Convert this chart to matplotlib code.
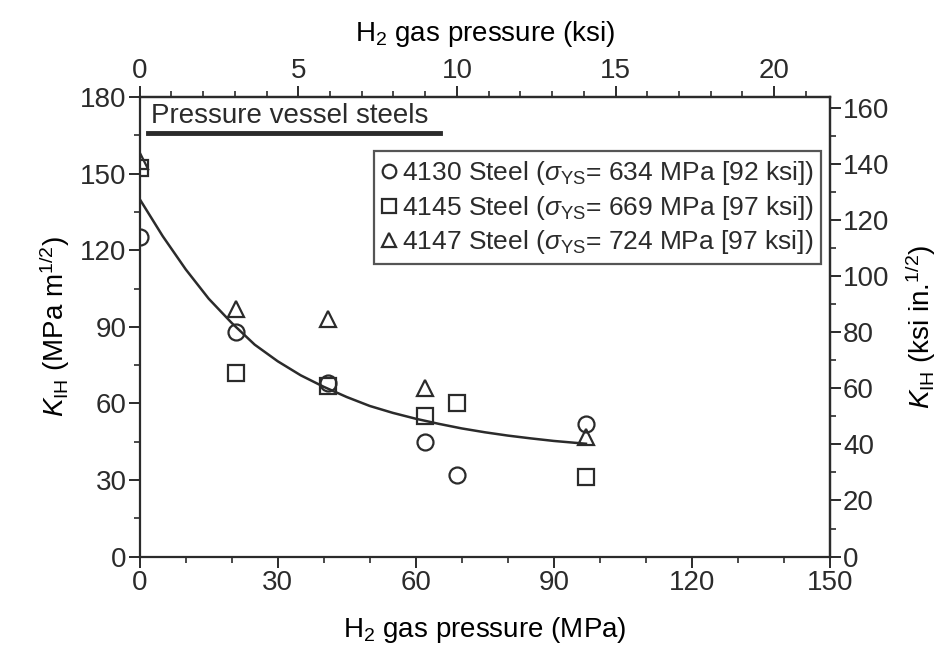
import numpy as np
import matplotlib.pyplot as plt
from matplotlib.ticker import MultipleLocator, FixedLocator

plt.rcParams['font.family'] = ['Liberation Sans', 'DejaVu Sans']
plt.rcParams['mathtext.fontset'] = 'custom'
plt.rcParams['mathtext.rm'] = 'Liberation Sans'
plt.rcParams['mathtext.it'] = 'Liberation Sans:italic'

# H2 pressure (MPa) and K_IH (MPa m^1/2)
p_4130 = [0, 21, 41, 62, 69, 97]
k_4130 = [125, 88, 68, 45, 32, 52]
p_4145 = [0, 21, 41, 62, 69, 97]
k_4145 = [152, 72, 67, 55, 60, 31]
p_4147 = [0, 21, 41, 62, 97]
k_4147 = [155, 97, 93, 66, 47]

# trend curve
p_fit = [0, 5, 10, 15, 20, 25, 30, 35, 40, 45, 50, 55, 60, 65, 70, 75, 80, 85, 90, 97]
k_fit = [140, 125.5, 112.5, 101, 91.5, 83, 76.5, 71, 66.5, 62.5, 59, 56.3, 54, 52,
         50.2, 48.7, 47.4, 46.3, 45.3, 44.2]

labels = [r'4130 Steel ($\sigma_{\mathrm{YS}}$= 634 MPa [92 ksi])',
          r'4145 Steel ($\sigma_{\mathrm{YS}}$= 669 MPa [97 ksi])',
          r'4147 Steel ($\sigma_{\mathrm{YS}}$= 724 MPa [97 ksi])']
ksi_ticks = [0, 5, 10, 15, 20]
ksi_in_ticks = [0, 20, 40, 60, 80, 100, 120, 140, 160]

col = '#2b2b2b'
fs = 20

fig = plt.figure(figsize=(9.44, 6.51), dpi=100)
ax = fig.add_axes([0.148, 0.145, 0.731, 0.706])

mk = dict(linestyle='none', markersize=11.5, markerfacecolor='none',
          markeredgecolor=col, markeredgewidth=1.6)
ax.plot(p_fit, k_fit, color=col, lw=1.8)
ax.plot(p_4130, k_4130, marker='o', label=labels[0], **mk)
ax.plot(p_4145, k_4145, marker='s', label=labels[1], **mk)
ax.plot(p_4147, k_4147, marker='^', label=labels[2], **mk)

ax.set_xlim(0, 150)
ax.set_ylim(0, 180)
ax.xaxis.set_major_locator(MultipleLocator(30))
ax.xaxis.set_minor_locator(MultipleLocator(10))
ax.yaxis.set_major_locator(MultipleLocator(30))
ax.yaxis.set_minor_locator(MultipleLocator(15))
ax.set_xlabel(r'H$_2$ gas pressure (MPa)', fontsize=fs, labelpad=14)
ax.set_ylabel(r'$K_{\mathrm{IH}}$ (MPa m$^{1/2}$)', fontsize=fs, labelpad=6)

top = ax.secondary_xaxis('top', functions=(lambda x: x / 6.895, lambda x: x * 6.895))
top.xaxis.set_major_locator(FixedLocator(ksi_ticks))
top.xaxis.set_minor_locator(FixedLocator(list(range(0, 22))))
top.set_xlabel(r'H$_2$ gas pressure (ksi)', fontsize=fs, labelpad=12)

right = ax.secondary_yaxis('right', functions=(lambda y: y / 1.0988, lambda y: y * 1.0988))
right.yaxis.set_major_locator(FixedLocator(ksi_in_ticks))
right.yaxis.set_minor_locator(FixedLocator(list(range(0, 164, 10))))
right.set_ylabel(r'$K_{\mathrm{IH}}$ (ksi in.$^{1/2}$)', fontsize=fs, labelpad=10)

for a in (ax, top, right):
    a.tick_params(which='major', direction='out', length=8, width=1.4,
                  labelsize=fs, colors=col, pad=1.5)
    a.tick_params(which='minor', direction='out', length=4.5, width=1.2, colors=col)
    for s in a.spines.values():
        s.set_linewidth(1.6)
        s.set_color(col)

ax.text(0.017, 0.958, 'Pressure vessel steels', transform=ax.transAxes,
        fontsize=fs, color=col, va='center', ha='left')
ax.plot([0.012, 0.435], [0.922, 0.922], transform=ax.transAxes,
        color=col, lw=3.5)

leg = ax.legend(loc='upper right', bbox_to_anchor=(0.988, 0.882), fontsize=19,
                frameon=True, fancybox=False, handlelength=0.55, handletextpad=0.2,
                borderpad=0.3, labelspacing=0.25, borderaxespad=0, markerscale=0.85)
leg.get_frame().set_edgecolor(col)
leg.get_frame().set_linewidth(1.6)
for t in leg.get_texts():
    t.set_color(col)

fig.savefig('out.png', dpi=100)
